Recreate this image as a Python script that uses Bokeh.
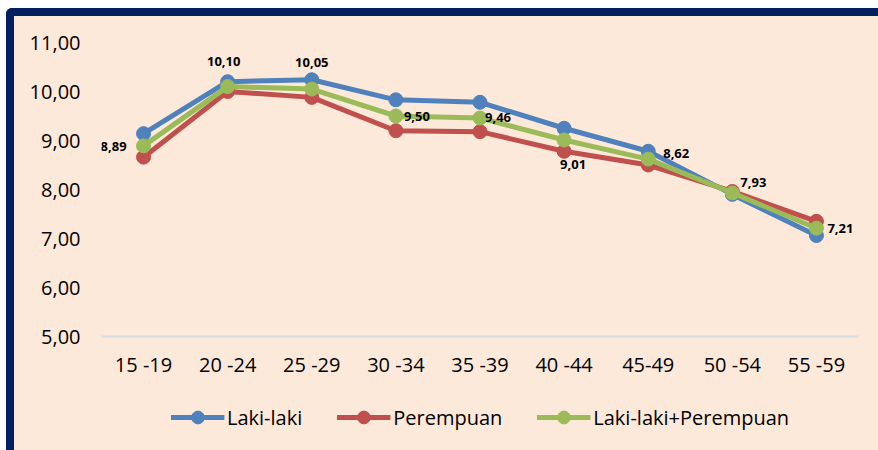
from bokeh.plotting import figure
from bokeh.layouts import column
from bokeh.models import (FactorRange, Range1d, FixedTicker, Legend, LegendItem,
                          ColumnDataSource)
from bokeh.core.properties import value
from bokeh.embed import file_html
from bokeh.resources import INLINE

# ---- data ----
categories = ["15 -19", "20 -24", "25 -29", "30 -34", "35 -39", "40 -44", "45-49", "50 -54", "55 -59"]
laki = [9.14, 10.20, 10.24, 9.83, 9.78, 9.25, 8.78, 7.90, 7.06]
perempuan = [8.66, 10.00, 9.88, 9.20, 9.18, 8.78, 8.50, 7.96, 7.35]
total = [8.89, 10.10, 10.05, 9.50, 9.46, 9.01, 8.62, 7.93, 7.21]
total_labels = ["8,89", "10,10", "10,05", "9,50", "9,46", "9,01", "8,62", "7,93", "7,21"]
y_ticks = [5, 6, 7, 8, 9, 10, 11]
y_tick_labels = ["5,00", "6,00", "7,00", "8,00", "9,00", "10,00", "11,00"]
series_names = ["Laki-laki", "Perempuan", "Laki-laki+Perempuan"]

# ---- styles ----
label_dx = [-30, -4, 0, 21, 18, 9, 28, 21, 24]
label_dy = [1, -25, -27, 0, 0, 24, -6, -10, 0]
colors = ["#4F81BD", "#C0504D", "#9BBB59"]
bg = "#FDE9D9"
navy = "#002060"
FONT = "Open Sans"

# ---- main chart ----
p = figure(x_range=FactorRange(factors=categories), y_range=Range1d(5, 11),
           width=872, height=376, output_backend="svg", toolbar_location=None,
           background_fill_color=bg, border_fill_color=bg,
           min_border_left=87, min_border_top=26, min_border_right=28, min_border_bottom=56)
p.outline_line_color = None
p.grid.visible = False

p.yaxis.ticker = FixedTicker(ticks=y_ticks)
p.yaxis.major_label_overrides = {t: l for t, l in zip(y_ticks, y_tick_labels)}
p.yaxis.axis_line_color = None
p.yaxis.major_label_standoff = 21
p.xaxis.axis_line_color = "#D6DCE4"
p.xaxis.axis_line_width = 2
p.xaxis.major_label_standoff = 14
for ax in (p.xaxis, p.yaxis):
    ax.major_tick_line_color = None
    ax.minor_tick_line_color = None
    ax.major_tick_out = 0
    ax.major_tick_in = 0
    ax.major_label_text_font = FONT
    ax.major_label_text_font_size = "20px"
    ax.major_label_text_color = "#000000"

for vals, col in zip([laki, perempuan, total], colors):
    src = ColumnDataSource(dict(x=categories, y=vals))
    p.line("x", "y", source=src, line_color=col, line_width=5)
    p.scatter("x", "y", source=src, size=14, fill_color=col, line_color=col)

lsrc = ColumnDataSource(dict(x=categories, y=total, t=total_labels, dx=label_dx, dy=label_dy))
p.text("x", "y", text="t", source=lsrc, x_offset="dx", y_offset="dy",
       text_align="center", text_baseline="middle", text_font=value(FONT),
       text_font_style="bold", text_font_size="13px", text_color="#000000")

# ---- legend strip (separate figure, legend drawn inside its frame) ----
p2 = figure(x_range=FactorRange(factors=categories), y_range=Range1d(0, 1),
            width=872, height=66, output_backend="svg", toolbar_location=None,
            x_axis_location=None, y_axis_location=None,
            background_fill_color=bg, border_fill_color=bg,
            min_border_left=1, min_border_right=0, min_border_top=0, min_border_bottom=16)
p2.outline_line_color = None
p2.grid.visible = False

items = []
for name, vals, col in zip(series_names, [laki, perempuan, total], colors):
    src = ColumnDataSource(dict(x=categories, y=vals))   # values lie outside this strip's range
    ln = p2.line("x", "y", source=src, line_color=col, line_width=5)
    sc = p2.scatter("x", "y", source=src, size=14, fill_color=col, line_color=col)
    items.append(LegendItem(label=name, renderers=[ln, sc]))

legend = Legend(items=items, orientation="horizontal", location="center",
                glyph_width=54, glyph_height=32, label_standoff=3, spacing=34,
                padding=0, margin=0, border_line_color=None, background_fill_alpha=0,
                label_text_font=FONT, label_text_font_size="20px", label_text_color="#000000")
p2.add_layout(legend, "center")

layout = column(p, p2, spacing=0)
layout.styles = {"border-left": f"8px solid {navy}", "border-top": f"8px solid {navy}",
                 "border-top-left-radius": "6px", "margin-left": "6px", "margin-top": "8px",
                 "overflow": "hidden", "background-color": bg}

open("out.html", "w").write(file_html(layout, INLINE))
